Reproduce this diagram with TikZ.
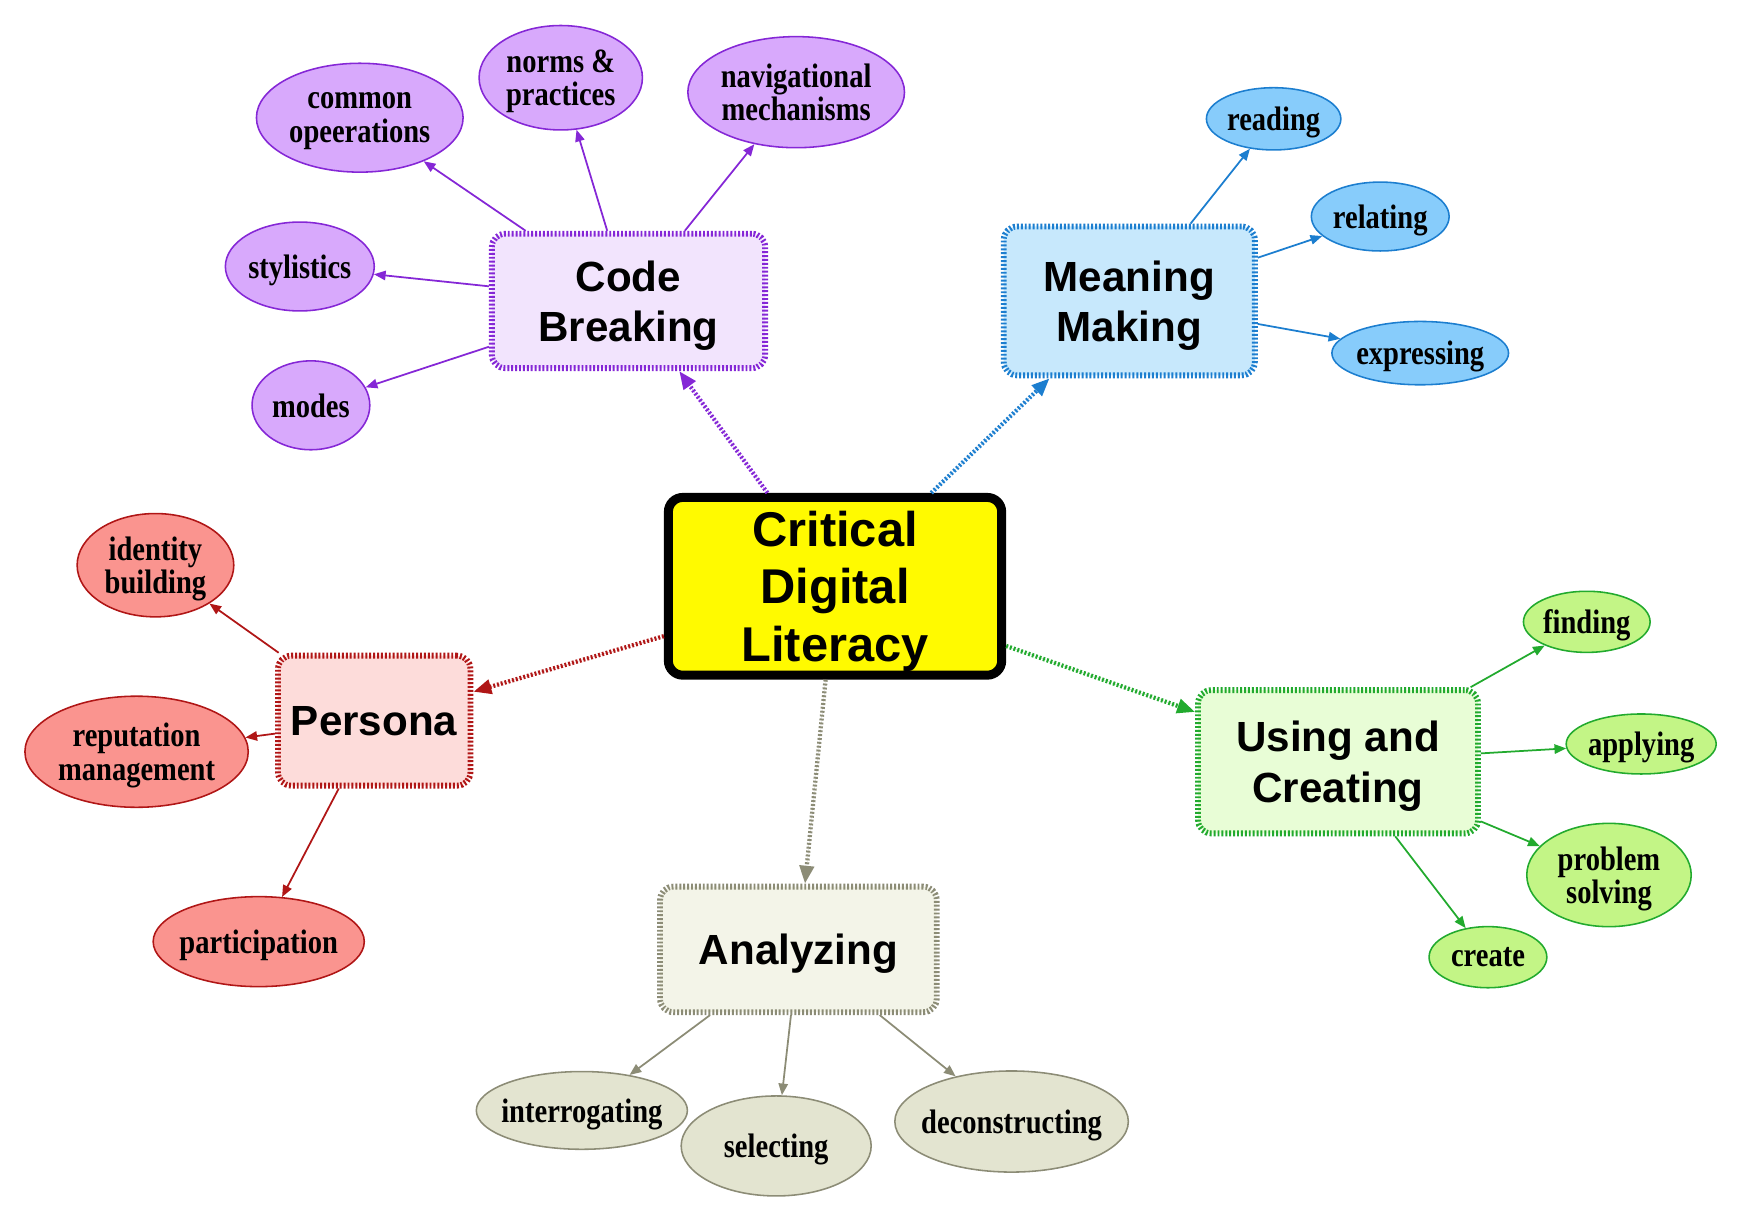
\documentclass[tikz,border=0pt]{standalone}
\usepackage{fontspec}
\usepackage{tikz}
\usetikzlibrary{positioning}
\usetikzlibrary{shapes.geometric}
\usetikzlibrary{arrows.meta}
\newfontfamily\headfont{Liberation Sans}
\newfontfamily\leaffont[FakeStretch=0.84]{Liberation Serif}
\definecolor{cbline}{HTML}{8527D6}
\definecolor{cbfill}{HTML}{F2E4FD}
\definecolor{cbleaf}{HTML}{D8A9FC}
\definecolor{mmline}{HTML}{1C7ECF}
\definecolor{mmfill}{HTML}{C7E8FC}
\definecolor{mmleaf}{HTML}{87CCFB}
\definecolor{peline}{HTML}{B01616}
\definecolor{pefill}{HTML}{FDDCDA}
\definecolor{peleaf}{HTML}{FA948F}
\definecolor{anline}{HTML}{8C8C76}
\definecolor{anfill}{HTML}{F3F4E8}
\definecolor{anleaf}{HTML}{E3E4D0}
\definecolor{ucline}{HTML}{22AA2E}
\definecolor{ucfill}{HTML}{E8FDD6}
\definecolor{ucleaf}{HTML}{C3F586}
\definecolor{hubyellow}{HTML}{FFFA00}
\tikzset{
    concept map/.style={
            x=0.01cm,y=-0.01cm,
            hub/.style={draw=black,line width=2.3pt,fill=hubyellow,rounded corners=0.13cm,
                align=center,text depth=0pt,font=\headfont\bfseries\fontsize{12.5}{14.8}\selectfont},
            topic/.style 2 args={draw=##1,fill=##2,line width=1.5pt,dash pattern=on 0.5pt off 0.5pt,
                rounded corners=0.12cm,align=center,text depth=0pt,font=\headfont\bfseries\fontsize{10.8}{12.9}\selectfont},
            leaf/.style 2 args={ellipse,draw=##1,fill=##2,line width=0.4pt,inner sep=-2pt,
                align=center,text depth=0pt,font=\leaffont\bfseries\fontsize{8.7}{8.6}\selectfont},
            branch/.style={-{Triangle[length=4.6pt,width=3.6pt]},line width=1.1pt,dash pattern=on 0.5pt off 0.5pt,draw=##1,fill=##1},
            twig/.style={-{Triangle[length=3pt,width=2.4pt]},line width=0.45pt,draw=##1,fill=##1}
        }
    }
\begin{document}
\begin{tikzpicture}[concept map]
    \useasboundingbox (0,0) rectangle (1567,1100);
    \node (c) [hub,minimum width=3cm,minimum height=1.6cm] at (752,528) {Critical\\Digital\\Literacy};
    % main topics
    \node (cb) [topic={cbline}{cbfill},minimum width=2.46cm,minimum height=1.21cm] at (566,271) {Code\\Breaking};
    \node (mm) [topic={mmline}{mmfill},minimum width=2.26cm,minimum height=1.34cm] at (1017,271) {Meaning\\Making};
    \node (pe) [topic={peline}{pefill},minimum width=1.73cm,minimum height=1.17cm] at (337,649) {Persona};
    \node (an) [topic={anline}{anfill},minimum width=2.49cm,minimum height=1.13cm] at (719,855) {Analyzing};
    \node (uc) [topic={ucline}{ucfill},minimum width=2.52cm,minimum height=1.29cm] at (1205,686) {Using and\\Creating};
    % code breaking
    \node (cb1) [leaf={cbline}{cbleaf},minimum width=1.86cm,minimum height=0.98cm] at (324,106) {common\\opeerations};
    \node (cb2) [leaf={cbline}{cbleaf},minimum width=1.47cm,minimum height=0.94cm] at (505,70) {norms \&\\practices};
    \node (cb3) [leaf={cbline}{cbleaf},minimum width=1.95cm,minimum height=1cm] at (717,83) {navigational\\mechanisms};
    \node (cb4) [leaf={cbline}{cbleaf},minimum width=1.34cm,minimum height=0.8cm] at (270,240) {stylistics};
    \node (cb5) [leaf={cbline}{cbleaf},minimum width=1.06cm,minimum height=0.8cm] at (280,365) {modes};
    % meaning making
    \node (mm1) [leaf={mmline}{mmleaf},minimum width=1.21cm,minimum height=0.56cm] at (1147,107) {reading};
    \node (mm2) [leaf={mmline}{mmleaf},minimum width=1.24cm,minimum height=0.62cm] at (1243,195) {relating};
    \node (mm3) [leaf={mmline}{mmleaf},minimum width=1.59cm,minimum height=0.57cm] at (1279,318) {expressing};
    % persona
    \node (pe1) [leaf={peline}{peleaf},minimum width=1.41cm,minimum height=0.93cm] at (140,509) {identity\\building};
    \node (pe2) [leaf={peline}{peleaf},minimum width=2.01cm,minimum height=1cm] at (123,677) {reputation\\management};
    \node (pe3) [leaf={peline}{peleaf},minimum width=1.9cm,minimum height=0.81cm] at (233,848) {participation};
    % analyzing
    \node (an1) [leaf={anline}{anleaf},minimum width=1.9cm,minimum height=0.7cm] at (524,1000) {interrogating};
    \node (an2) [leaf={anline}{anleaf},minimum width=1.71cm,minimum height=0.9cm] at (699,1032) {selecting};
    \node (an3) [leaf={anline}{anleaf},minimum width=2.09cm,minimum height=0.91cm] at (911,1010) {deconstructing};
    % using and creating
    \node (uc1) [leaf={ucline}{ucleaf},minimum width=1.14cm,minimum height=0.55cm] at (1429,560) {finding};
    \node (uc2) [leaf={ucline}{ucleaf},minimum width=1.35cm,minimum height=0.54cm] at (1478,670) {applying};
    \node (uc3) [leaf={ucline}{ucleaf},minimum width=1.48cm,minimum height=0.93cm] at (1449,788) {problem\\solving};
    \node (uc4) [leaf={ucline}{ucleaf},minimum width=1.06cm,minimum height=0.55cm] at (1340,862) {create};
    \draw [branch=cbline] (c) -- (cb);
    \draw [branch=mmline] (c) -- (mm);
    \draw [branch=peline] (c) -- (pe);
    \draw [branch=anline] (c) -- (an);
    \draw [branch=ucline] (c) -- (uc);
    \foreach \n in {cb1,cb2,cb3,cb4,cb5} \draw [twig=cbline] (cb) -- (\n);
    \foreach \n in {mm1,mm2,mm3} \draw [twig=mmline] (mm) -- (\n);
    \foreach \n in {pe1,pe2,pe3} \draw [twig=peline] (pe) -- (\n);
    \foreach \n in {an1,an2,an3} \draw [twig=anline] (an) -- (\n);
    \foreach \n in {uc1,uc2,uc3,uc4} \draw [twig=ucline] (uc) -- (\n);
\end{tikzpicture}
\end{document}
